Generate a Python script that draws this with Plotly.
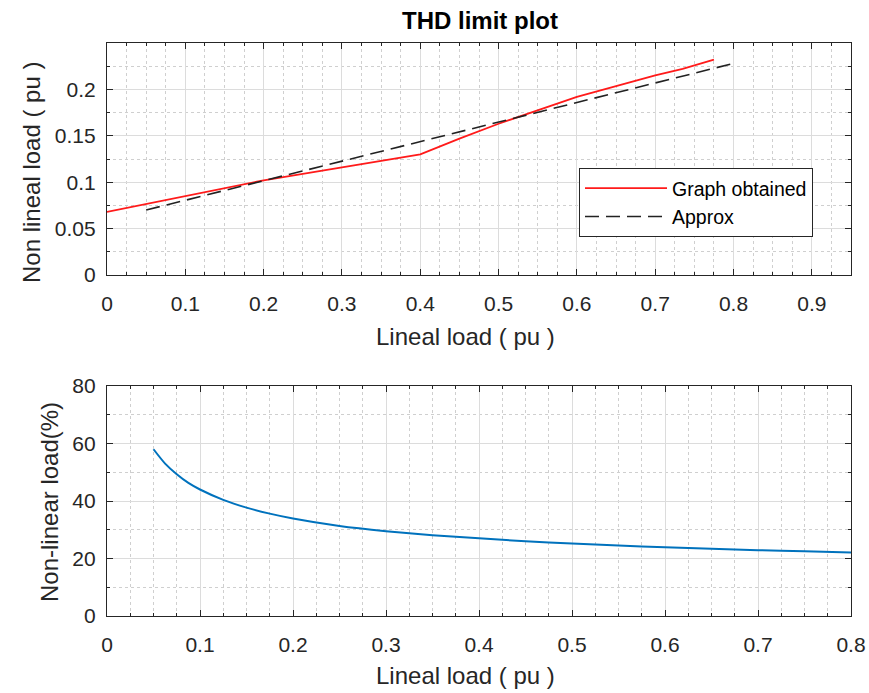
import plotly.graph_objects as go

# ---- data ----
graph_x = [0.0, 0.1, 0.2, 0.3, 0.4, 0.45, 0.5, 0.6, 0.7, 0.735, 0.775]
graph_y = [0.068, 0.085, 0.102, 0.116, 0.130, 0.147, 0.163, 0.192, 0.215, 0.222, 0.232]

approx_x = [0.05, 0.8]
approx_y = [0.070, 0.228]

lin_x = [0.05, 0.0625, 0.075, 0.0875, 0.1, 0.125, 0.15, 0.175, 0.2, 0.25, 0.3, 0.35,
         0.4, 0.45, 0.5, 0.55, 0.6, 0.65, 0.7, 0.75, 0.8]
nonlin_pct = [58.0, 53.0, 49.3, 46.3, 44.0, 40.4, 37.7, 35.6, 33.9, 31.3, 29.5, 28.1,
              27.0, 26.0, 25.2, 24.5, 23.9, 23.4, 22.9, 22.5, 22.1]

top_xticks = [0, 0.1, 0.2, 0.3, 0.4, 0.5, 0.6, 0.7, 0.8, 0.9]
top_yticks = [0, 0.05, 0.1, 0.15, 0.2]
bot_xticks = [0, 0.1, 0.2, 0.3, 0.4, 0.5, 0.6, 0.7, 0.8]
bot_yticks = [0, 20, 40, 60, 80]

W, H = 869, 693
FONT = "Liberation Sans, Arial, sans-serif"
DARK = "#262626"


def px(x):  # page x -> paper fraction
    return x / W


def py(y):  # page y -> paper fraction
    return 1 - y / H


fig = go.Figure()
fig.add_trace(go.Scatter(x=graph_x, y=graph_y, mode="lines", name="Graph obtained",
                         line=dict(color="#ff1a1a", width=1.8), xaxis="x", yaxis="y"))
fig.add_trace(go.Scatter(x=approx_x, y=approx_y, mode="lines", name="Approx",
                         line=dict(color="#222222", width=1.6, dash="14px,7px"),
                         xaxis="x", yaxis="y"))
fig.add_trace(go.Scatter(x=lin_x, y=nonlin_pct, mode="lines", showlegend=False,
                         line=dict(color="#0072BD", width=2, shape="spline", smoothing=0.6),
                         xaxis="x2", yaxis="y2"))

xdom = [px(107), px(851)]


def ax(rng, ticks, dom, minor_dtick, anchor):
    return dict(
        range=rng, domain=dom, anchor=anchor, automargin=False,
        tickmode="array", tickvals=ticks, ticktext=[str(t) for t in ticks],
        showline=True, linecolor=DARK, linewidth=1.2, mirror="allticks",
        ticks="inside", ticklen=6, tickcolor=DARK, tickwidth=1.2,
        showgrid=True, gridcolor="#dcdcdc", gridwidth=1,
        zeroline=False,
        tickfont=dict(family=FONT, size=21, color=DARK),
        minor=dict(dtick=minor_dtick, tick0=0, showgrid=True, gridcolor="#cfcfcf",
                   griddash="dot", gridwidth=1, ticks="inside", ticklen=3,
                   tickcolor=DARK),
    )


fig.update_layout(
    width=W, height=H,
    margin=dict(l=0, r=0, t=0, b=0),
    paper_bgcolor="white", plot_bgcolor="white",
    font=dict(family=FONT, color=DARK),
    xaxis=ax([0, 0.95], top_xticks, xdom, 0.025, "y"),
    yaxis=ax([0, 0.25], top_yticks, [py(275), py(43)], 0.025, "x"),
    xaxis2=ax([0, 0.8], bot_xticks, xdom, 0.025, "y2"),
    yaxis2=ax([0, 80], bot_yticks, [py(616), py(386)], 10, "x2"),
    legend=dict(x=px(579), y=py(168), xanchor="left", yanchor="top",
                bgcolor="white", bordercolor=DARK, borderwidth=1,
                font=dict(family=FONT, size=19.5, color="#000000"),
                tracegroupgap=0, itemwidth=82),
    showlegend=True,
)
fig.update_xaxes(ticklabelstandoff=10)
fig.update_yaxes(ticklabelstandoff=6)

annos = [
    dict(text="<b>THD limit plot</b>", x=480, y=21, size=24, color="#000000"),
    dict(text="Lineal load ( pu )", x=466, y=337, size=24),
    dict(text="Lineal load ( pu )", x=466, y=675, size=24),
    dict(text="Non lineal load ( pu )", x=31, y=173, size=24, angle=-90),
    dict(text="Non-linear load(%)", x=49, y=502, size=24, angle=-90),
]
for a in annos:
    fig.add_annotation(text=a["text"], x=px(a["x"]), y=py(a["y"]), xref="paper", yref="paper",
                       xanchor="center", yanchor="middle", showarrow=False,
                       textangle=a.get("angle", 0),
                       font=dict(family=FONT, size=a["size"], color=a.get("color", DARK)))

fig.write_html("out.html",
               config={"displayModeBar": False},
               post_script="document.body.style.margin='0';document.body.style.overflow='hidden';")
